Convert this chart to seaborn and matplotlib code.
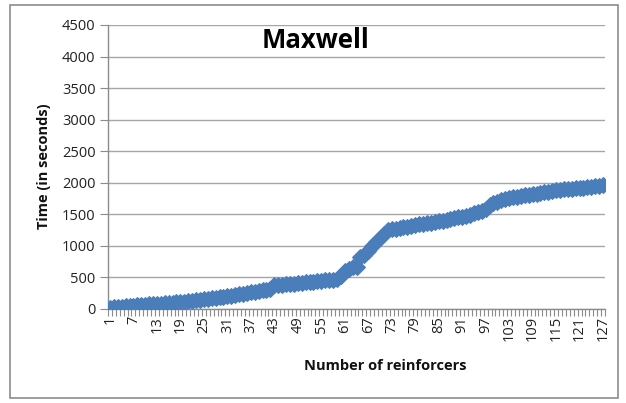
import matplotlib
matplotlib.use("Agg")
import matplotlib.pyplot as plt
import seaborn as sns
import pandas as pd
import numpy as np

# Cumulative run time (seconds) for each number of reinforcers
reinforcers = list(range(1, 128))
time_seconds = [
    15, 25, 32, 38, 44, 50, 55, 60, 65, 70,
    74, 78, 82, 86, 90, 95, 100, 106, 112, 118,
    124, 131, 138, 145, 152, 160, 168, 176, 184, 192,
    200, 210, 220, 230, 240, 252, 264, 276, 286, 296,
    306, 316, 375, 380, 386, 392, 398, 404, 410, 416,
    422, 428, 434, 440, 446, 452, 458, 464, 470, 520,
    600, 640, 660, 670, 820, 860, 920, 1000, 1060, 1120,
    1190, 1250, 1265, 1275, 1285, 1295, 1305, 1320, 1330, 1340,
    1350, 1360, 1370, 1380, 1390, 1400, 1410, 1420, 1435, 1450,
    1465, 1480, 1495, 1515, 1535, 1560, 1590, 1640, 1680, 1700,
    1720, 1740, 1755, 1770, 1780, 1790, 1800, 1810, 1820, 1830,
    1840, 1850, 1860, 1870, 1880, 1888, 1895, 1900, 1905, 1910,
    1915, 1920, 1928, 1935, 1943, 1952, 1965,
]
x_tick_labels = [str(v) for v in range(1, 128, 6)]
y_ticks = list(range(0, 5000, 500))

df = pd.DataFrame({"reinforcers": reinforcers, "time": time_seconds})

sns.set_theme(style="white")
plt.rcParams["font.family"] = ["Open Sans", "DejaVu Sans"]

fig = plt.figure(figsize=(6.26, 4.03), dpi=100)
ax = fig.add_axes([108 / 626, 1 - 309 / 403, (605 - 108) / 626, (309 - 25) / 403])

# Outer chart border
fig.patches.append(plt.Rectangle((10 / 626, 5 / 403), 608 / 626, 393 / 403,
                                 transform=fig.transFigure, fill=False,
                                 edgecolor="#8c8c8c", linewidth=1.2))

blue = "#4a7ebb"
sns.lineplot(data=df, x="reinforcers", y="time", ax=ax, color=blue,
             linewidth=2.4, marker="D", markersize=8.5,
             markeredgecolor=blue, markerfacecolor=blue, zorder=3)

ax.set_xlim(0.5, 127.5)
ax.set_ylim(0, 4500)
ax.set_yticks(y_ticks)
ax.set_yticklabels([str(v) for v in y_ticks], fontsize=10.5, color="#222222")
ax.yaxis.grid(True, color="#a6a6a6", linewidth=1)
ax.set_axisbelow(True)

ax.set_xticks(list(range(1, 128, 6)))
ax.set_xticklabels(x_tick_labels, rotation=90, fontsize=10.5, color="#222222")
ax.set_xticks(np.arange(0.5, 128, 1.0), minor=True)
ax.tick_params(axis="x", which="major", length=0, pad=5)
ax.tick_params(axis="x", which="minor", length=5, width=0.8, color="#8c8c8c",
               direction="out", bottom=True)
ax.tick_params(axis="y", which="major", length=6, width=0.8, color="#8c8c8c",
               direction="out", left=True, pad=3)

for side in ["top", "right"]:
    ax.spines[side].set_visible(False)
for side in ["left", "bottom"]:
    ax.spines[side].set_color("#8c8c8c")
    ax.spines[side].set_linewidth(1)

ax.set_xlabel("")
ax.set_ylabel("")
fig.text(44 / 626, 1 - 166 / 403, "Time (in seconds)", rotation=90,
         ha="center", va="center", fontsize=10.5, fontweight="bold", color="#111111")
fig.text(385 / 626, 1 - 366 / 403, "Number of reinforcers",
         ha="center", va="center", fontsize=10.5, fontweight="bold", color="#111111")
fig.text(316 / 626, 1 - 40 / 403, "Maxwell",
         ha="center", va="center", fontsize=18.5, fontweight="bold", color="#000000")

fig.savefig("out.png", dpi=100)
